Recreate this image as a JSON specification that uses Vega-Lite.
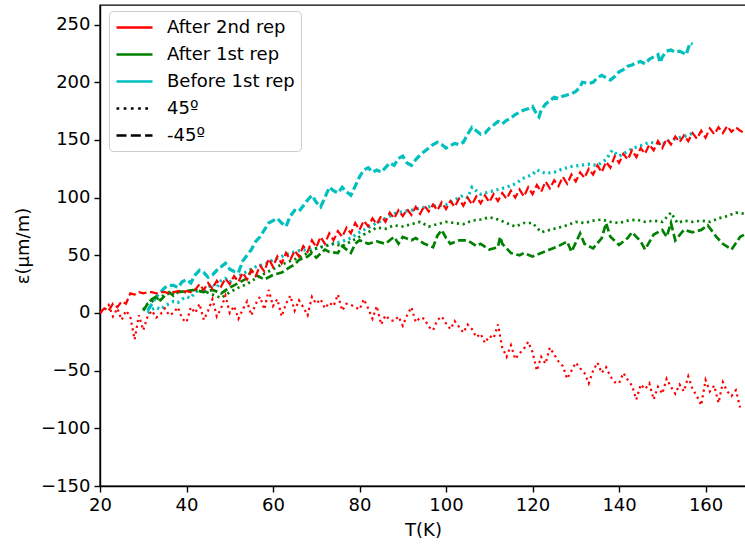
{
"$schema":"https://vega.github.io/schema/vega-lite/v6.json",
"width":646,"height":481,
"autosize":{"type":"none"},
"padding":{"left":100,"top":5,"right":0,"bottom":64},
"background":"white",
"config":{"font":"DejaVu Sans","view":{"stroke":"black","strokeWidth":1.4},
"axis":{"domainColor":"black","domainWidth":1.4,"tickColor":"black","tickWidth":1.4,"tickSize":6,"labelFontSize":18,"labelColor":"black","labelPadding":4,"titleFontSize":18,"titleFontWeight":"normal","titleColor":"black","grid":false,"labelFont":"DejaVu Sans","titleFont":"DejaVu Sans","labelFlush":false}},
"data":{"values":[
{"rep":"Before 1st rep","angle":"-45º","T":31,"e":2},{"rep":"Before 1st rep","angle":"-45º","T":32,"e":8},{"rep":"Before 1st rep","angle":"-45º","T":33,"e":14},{"rep":"Before 1st rep","angle":"-45º","T":34,"e":18},{"rep":"Before 1st rep","angle":"-45º","T":35,"e":22},{"rep":"Before 1st rep","angle":"-45º","T":36,"e":24},{"rep":"Before 1st rep","angle":"-45º","T":37,"e":24},{"rep":"Before 1st rep","angle":"-45º","T":38,"e":22},{"rep":"Before 1st rep","angle":"-45º","T":39,"e":27},{"rep":"Before 1st rep","angle":"-45º","T":40,"e":29},{"rep":"Before 1st rep","angle":"-45º","T":41,"e":26},{"rep":"Before 1st rep","angle":"-45º","T":42,"e":33},{"rep":"Before 1st rep","angle":"-45º","T":43,"e":37},{"rep":"Before 1st rep","angle":"-45º","T":44,"e":35},{"rep":"Before 1st rep","angle":"-45º","T":45,"e":31},{"rep":"Before 1st rep","angle":"-45º","T":46,"e":33},{"rep":"Before 1st rep","angle":"-45º","T":47,"e":37},{"rep":"Before 1st rep","angle":"-45º","T":48,"e":40},{"rep":"Before 1st rep","angle":"-45º","T":49,"e":43},{"rep":"Before 1st rep","angle":"-45º","T":50,"e":38},{"rep":"Before 1st rep","angle":"-45º","T":51,"e":36},{"rep":"Before 1st rep","angle":"-45º","T":52,"e":35},{"rep":"Before 1st rep","angle":"-45º","T":53,"e":45},{"rep":"Before 1st rep","angle":"-45º","T":54,"e":50},{"rep":"Before 1st rep","angle":"-45º","T":55,"e":55},{"rep":"Before 1st rep","angle":"-45º","T":56,"e":62},{"rep":"Before 1st rep","angle":"-45º","T":57,"e":66},{"rep":"Before 1st rep","angle":"-45º","T":58,"e":72},{"rep":"Before 1st rep","angle":"-45º","T":59,"e":78},{"rep":"Before 1st rep","angle":"-45º","T":60,"e":80},{"rep":"Before 1st rep","angle":"-45º","T":61,"e":82},{"rep":"Before 1st rep","angle":"-45º","T":62,"e":78},{"rep":"Before 1st rep","angle":"-45º","T":63,"e":75},{"rep":"Before 1st rep","angle":"-45º","T":64,"e":84},{"rep":"Before 1st rep","angle":"-45º","T":65,"e":89},{"rep":"Before 1st rep","angle":"-45º","T":66,"e":88},{"rep":"Before 1st rep","angle":"-45º","T":67,"e":93},{"rep":"Before 1st rep","angle":"-45º","T":68,"e":98},{"rep":"Before 1st rep","angle":"-45º","T":69,"e":102},{"rep":"Before 1st rep","angle":"-45º","T":70,"e":96},{"rep":"Before 1st rep","angle":"-45º","T":71,"e":92},{"rep":"Before 1st rep","angle":"-45º","T":72,"e":100},{"rep":"Before 1st rep","angle":"-45º","T":73,"e":109},{"rep":"Before 1st rep","angle":"-45º","T":74,"e":106},{"rep":"Before 1st rep","angle":"-45º","T":75,"e":104},{"rep":"Before 1st rep","angle":"-45º","T":76,"e":109},{"rep":"Before 1st rep","angle":"-45º","T":77,"e":105},{"rep":"Before 1st rep","angle":"-45º","T":78,"e":102},{"rep":"Before 1st rep","angle":"-45º","T":79,"e":110},{"rep":"Before 1st rep","angle":"-45º","T":80,"e":118},{"rep":"Before 1st rep","angle":"-45º","T":81,"e":124},{"rep":"Before 1st rep","angle":"-45º","T":82,"e":126},{"rep":"Before 1st rep","angle":"-45º","T":83,"e":122},{"rep":"Before 1st rep","angle":"-45º","T":84,"e":124},{"rep":"Before 1st rep","angle":"-45º","T":85,"e":122},{"rep":"Before 1st rep","angle":"-45º","T":86,"e":126},{"rep":"Before 1st rep","angle":"-45º","T":87,"e":130},{"rep":"Before 1st rep","angle":"-45º","T":88,"e":128},{"rep":"Before 1st rep","angle":"-45º","T":89,"e":134},{"rep":"Before 1st rep","angle":"-45º","T":90,"e":136},{"rep":"Before 1st rep","angle":"-45º","T":91,"e":130},{"rep":"Before 1st rep","angle":"-45º","T":92,"e":128},{"rep":"Before 1st rep","angle":"-45º","T":93,"e":133},{"rep":"Before 1st rep","angle":"-45º","T":94,"e":137},{"rep":"Before 1st rep","angle":"-45º","T":95,"e":140},{"rep":"Before 1st rep","angle":"-45º","T":96,"e":143},{"rep":"Before 1st rep","angle":"-45º","T":97,"e":146},{"rep":"Before 1st rep","angle":"-45º","T":98,"e":148},{"rep":"Before 1st rep","angle":"-45º","T":99,"e":146},{"rep":"Before 1st rep","angle":"-45º","T":100,"e":143},{"rep":"Before 1st rep","angle":"-45º","T":101,"e":145},{"rep":"Before 1st rep","angle":"-45º","T":102,"e":147},{"rep":"Before 1st rep","angle":"-45º","T":103,"e":146},{"rep":"Before 1st rep","angle":"-45º","T":104,"e":148},{"rep":"Before 1st rep","angle":"-45º","T":105,"e":155},{"rep":"Before 1st rep","angle":"-45º","T":106,"e":161},{"rep":"Before 1st rep","angle":"-45º","T":107,"e":158},{"rep":"Before 1st rep","angle":"-45º","T":108,"e":155},{"rep":"Before 1st rep","angle":"-45º","T":109,"e":156},{"rep":"Before 1st rep","angle":"-45º","T":110,"e":160},{"rep":"Before 1st rep","angle":"-45º","T":111,"e":163},{"rep":"Before 1st rep","angle":"-45º","T":112,"e":166},{"rep":"Before 1st rep","angle":"-45º","T":113,"e":164},{"rep":"Before 1st rep","angle":"-45º","T":114,"e":167},{"rep":"Before 1st rep","angle":"-45º","T":115,"e":169},{"rep":"Before 1st rep","angle":"-45º","T":116,"e":172},{"rep":"Before 1st rep","angle":"-45º","T":117,"e":174},{"rep":"Before 1st rep","angle":"-45º","T":118,"e":176},{"rep":"Before 1st rep","angle":"-45º","T":119,"e":177},{"rep":"Before 1st rep","angle":"-45º","T":120,"e":179},{"rep":"Before 1st rep","angle":"-45º","T":121,"e":172},{"rep":"Before 1st rep","angle":"-45º","T":121.5,"e":170},{"rep":"Before 1st rep","angle":"-45º","T":122,"e":176},{"rep":"Before 1st rep","angle":"-45º","T":123,"e":181},{"rep":"Before 1st rep","angle":"-45º","T":124,"e":184},{"rep":"Before 1st rep","angle":"-45º","T":125,"e":187},{"rep":"Before 1st rep","angle":"-45º","T":126,"e":186},{"rep":"Before 1st rep","angle":"-45º","T":127,"e":188},{"rep":"Before 1st rep","angle":"-45º","T":128,"e":189},{"rep":"Before 1st rep","angle":"-45º","T":129,"e":190},{"rep":"Before 1st rep","angle":"-45º","T":130,"e":192},{"rep":"Before 1st rep","angle":"-45º","T":131,"e":196},{"rep":"Before 1st rep","angle":"-45º","T":131.5,"e":200},{"rep":"Before 1st rep","angle":"-45º","T":133,"e":199},{"rep":"Before 1st rep","angle":"-45º","T":134,"e":200},{"rep":"Before 1st rep","angle":"-45º","T":135,"e":204},{"rep":"Before 1st rep","angle":"-45º","T":136,"e":206},{"rep":"Before 1st rep","angle":"-45º","T":137,"e":204},{"rep":"Before 1st rep","angle":"-45º","T":138,"e":202},{"rep":"Before 1st rep","angle":"-45º","T":139,"e":205},{"rep":"Before 1st rep","angle":"-45º","T":140,"e":209},{"rep":"Before 1st rep","angle":"-45º","T":141,"e":211},{"rep":"Before 1st rep","angle":"-45º","T":142,"e":214},{"rep":"Before 1st rep","angle":"-45º","T":143,"e":215},{"rep":"Before 1st rep","angle":"-45º","T":144,"e":217},{"rep":"Before 1st rep","angle":"-45º","T":145,"e":218},{"rep":"Before 1st rep","angle":"-45º","T":146,"e":216},{"rep":"Before 1st rep","angle":"-45º","T":147,"e":220},{"rep":"Before 1st rep","angle":"-45º","T":148,"e":222},{"rep":"Before 1st rep","angle":"-45º","T":149,"e":224},{"rep":"Before 1st rep","angle":"-45º","T":149.5,"e":217},{"rep":"Before 1st rep","angle":"-45º","T":150,"e":222},{"rep":"Before 1st rep","angle":"-45º","T":151,"e":227},{"rep":"Before 1st rep","angle":"-45º","T":152,"e":228},{"rep":"Before 1st rep","angle":"-45º","T":153,"e":226},{"rep":"Before 1st rep","angle":"-45º","T":154,"e":227},{"rep":"Before 1st rep","angle":"-45º","T":155,"e":225},{"rep":"Before 1st rep","angle":"-45º","T":155.5,"e":224},{"rep":"Before 1st rep","angle":"-45º","T":156.4,"e":234},{"rep":"Before 1st rep","angle":"-45º","T":157,"e":233},
{"rep":"Before 1st rep","angle":"45º","T":31,"e":0},{"rep":"Before 1st rep","angle":"45º","T":32,"e":3},{"rep":"Before 1st rep","angle":"45º","T":33,"e":5},{"rep":"Before 1st rep","angle":"45º","T":34,"e":3},{"rep":"Before 1st rep","angle":"45º","T":35,"e":6},{"rep":"Before 1st rep","angle":"45º","T":36,"e":8},{"rep":"Before 1st rep","angle":"45º","T":37,"e":10},{"rep":"Before 1st rep","angle":"45º","T":38,"e":9},{"rep":"Before 1st rep","angle":"45º","T":39,"e":12},{"rep":"Before 1st rep","angle":"45º","T":40,"e":14},{"rep":"Before 1st rep","angle":"45º","T":41,"e":13},{"rep":"Before 1st rep","angle":"45º","T":42,"e":18},{"rep":"Before 1st rep","angle":"45º","T":43,"e":20},{"rep":"Before 1st rep","angle":"45º","T":44,"e":17},{"rep":"Before 1st rep","angle":"45º","T":45,"e":22},{"rep":"Before 1st rep","angle":"45º","T":46,"e":25},{"rep":"Before 1st rep","angle":"45º","T":47,"e":22},{"rep":"Before 1st rep","angle":"45º","T":48,"e":28},{"rep":"Before 1st rep","angle":"45º","T":49,"e":30},{"rep":"Before 1st rep","angle":"45º","T":50,"e":27},{"rep":"Before 1st rep","angle":"45º","T":52,"e":32},{"rep":"Before 1st rep","angle":"45º","T":54,"e":36},{"rep":"Before 1st rep","angle":"45º","T":56,"e":40},{"rep":"Before 1st rep","angle":"45º","T":58,"e":42},{"rep":"Before 1st rep","angle":"45º","T":60,"e":46},{"rep":"Before 1st rep","angle":"45º","T":62,"e":49},{"rep":"Before 1st rep","angle":"45º","T":64,"e":52},{"rep":"Before 1st rep","angle":"45º","T":66,"e":54},{"rep":"Before 1st rep","angle":"45º","T":68,"e":55},{"rep":"Before 1st rep","angle":"45º","T":70,"e":56},{"rep":"Before 1st rep","angle":"45º","T":72,"e":58},{"rep":"Before 1st rep","angle":"45º","T":74,"e":60},{"rep":"Before 1st rep","angle":"45º","T":76,"e":62},{"rep":"Before 1st rep","angle":"45º","T":78,"e":65},{"rep":"Before 1st rep","angle":"45º","T":80,"e":70},{"rep":"Before 1st rep","angle":"45º","T":82,"e":74},{"rep":"Before 1st rep","angle":"45º","T":84,"e":78},{"rep":"Before 1st rep","angle":"45º","T":86,"e":82},{"rep":"Before 1st rep","angle":"45º","T":88,"e":86},{"rep":"Before 1st rep","angle":"45º","T":90,"e":88},{"rep":"Before 1st rep","angle":"45º","T":92,"e":89},{"rep":"Before 1st rep","angle":"45º","T":94,"e":91},{"rep":"Before 1st rep","angle":"45º","T":96,"e":92},{"rep":"Before 1st rep","angle":"45º","T":98,"e":93},{"rep":"Before 1st rep","angle":"45º","T":100,"e":94},{"rep":"Before 1st rep","angle":"45º","T":102,"e":98},{"rep":"Before 1st rep","angle":"45º","T":104,"e":102},{"rep":"Before 1st rep","angle":"45º","T":105,"e":100},{"rep":"Before 1st rep","angle":"45º","T":106,"e":109},{"rep":"Before 1st rep","angle":"45º","T":107,"e":106},{"rep":"Before 1st rep","angle":"45º","T":108,"e":103},{"rep":"Before 1st rep","angle":"45º","T":110,"e":105},{"rep":"Before 1st rep","angle":"45º","T":112,"e":107},{"rep":"Before 1st rep","angle":"45º","T":114,"e":109},{"rep":"Before 1st rep","angle":"45º","T":116,"e":112},{"rep":"Before 1st rep","angle":"45º","T":118,"e":117},{"rep":"Before 1st rep","angle":"45º","T":120,"e":120},{"rep":"Before 1st rep","angle":"45º","T":121,"e":124},{"rep":"Before 1st rep","angle":"45º","T":123,"e":121},{"rep":"Before 1st rep","angle":"45º","T":125,"e":122},{"rep":"Before 1st rep","angle":"45º","T":127,"e":125},{"rep":"Before 1st rep","angle":"45º","T":129,"e":127},{"rep":"Before 1st rep","angle":"45º","T":131,"e":128},{"rep":"Before 1st rep","angle":"45º","T":133,"e":129},{"rep":"Before 1st rep","angle":"45º","T":135,"e":128},{"rep":"Before 1st rep","angle":"45º","T":137,"e":133},{"rep":"Before 1st rep","angle":"45º","T":138.4,"e":141},{"rep":"Before 1st rep","angle":"45º","T":140,"e":136},{"rep":"Before 1st rep","angle":"45º","T":142,"e":140},{"rep":"Before 1st rep","angle":"45º","T":143.3,"e":143},{"rep":"Before 1st rep","angle":"45º","T":145,"e":145},{"rep":"Before 1st rep","angle":"45º","T":147,"e":148},{"rep":"Before 1st rep","angle":"45º","T":149,"e":147},{"rep":"Before 1st rep","angle":"45º","T":150.5,"e":147},{"rep":"Before 1st rep","angle":"45º","T":152,"e":150},{"rep":"Before 1st rep","angle":"45º","T":154,"e":152},{"rep":"Before 1st rep","angle":"45º","T":156,"e":154},{"rep":"Before 1st rep","angle":"45º","T":157,"e":156},
{"rep":"After 1st rep","angle":"-45º","T":30,"e":2},{"rep":"After 1st rep","angle":"-45º","T":31,"e":8},{"rep":"After 1st rep","angle":"-45º","T":32,"e":12},{"rep":"After 1st rep","angle":"-45º","T":33,"e":14},{"rep":"After 1st rep","angle":"-45º","T":34,"e":11},{"rep":"After 1st rep","angle":"-45º","T":35,"e":15},{"rep":"After 1st rep","angle":"-45º","T":36,"e":18},{"rep":"After 1st rep","angle":"-45º","T":37,"e":15},{"rep":"After 1st rep","angle":"-45º","T":38,"e":18},{"rep":"After 1st rep","angle":"-45º","T":40,"e":19},{"rep":"After 1st rep","angle":"-45º","T":42,"e":20},{"rep":"After 1st rep","angle":"-45º","T":44,"e":18},{"rep":"After 1st rep","angle":"-45º","T":46,"e":20},{"rep":"After 1st rep","angle":"-45º","T":48,"e":17},{"rep":"After 1st rep","angle":"-45º","T":50,"e":22},{"rep":"After 1st rep","angle":"-45º","T":52,"e":26},{"rep":"After 1st rep","angle":"-45º","T":54,"e":30},{"rep":"After 1st rep","angle":"-45º","T":55,"e":37},{"rep":"After 1st rep","angle":"-45º","T":56,"e":33},{"rep":"After 1st rep","angle":"-45º","T":58,"e":29},{"rep":"After 1st rep","angle":"-45º","T":60,"e":33},{"rep":"After 1st rep","angle":"-45º","T":62,"e":35},{"rep":"After 1st rep","angle":"-45º","T":64,"e":40},{"rep":"After 1st rep","angle":"-45º","T":65,"e":42},{"rep":"After 1st rep","angle":"-45º","T":66,"e":46},{"rep":"After 1st rep","angle":"-45º","T":68,"e":49},{"rep":"After 1st rep","angle":"-45º","T":69,"e":52},{"rep":"After 1st rep","angle":"-45º","T":70,"e":48},{"rep":"After 1st rep","angle":"-45º","T":72,"e":55},{"rep":"After 1st rep","angle":"-45º","T":73,"e":53},{"rep":"After 1st rep","angle":"-45º","T":75,"e":52},{"rep":"After 1st rep","angle":"-45º","T":76,"e":58},{"rep":"After 1st rep","angle":"-45º","T":78,"e":52},{"rep":"After 1st rep","angle":"-45º","T":79,"e":60},{"rep":"After 1st rep","angle":"-45º","T":80,"e":63},{"rep":"After 1st rep","angle":"-45º","T":82,"e":60},{"rep":"After 1st rep","angle":"-45º","T":84,"e":62},{"rep":"After 1st rep","angle":"-45º","T":86,"e":60},{"rep":"After 1st rep","angle":"-45º","T":88,"e":66},{"rep":"After 1st rep","angle":"-45º","T":89,"e":60},{"rep":"After 1st rep","angle":"-45º","T":90,"e":66},{"rep":"After 1st rep","angle":"-45º","T":92,"e":63},{"rep":"After 1st rep","angle":"-45º","T":93,"e":65},{"rep":"After 1st rep","angle":"-45º","T":95,"e":60},{"rep":"After 1st rep","angle":"-45º","T":97,"e":57},{"rep":"After 1st rep","angle":"-45º","T":98,"e":67},{"rep":"After 1st rep","angle":"-45º","T":99,"e":72},{"rep":"After 1st rep","angle":"-45º","T":100,"e":65},{"rep":"After 1st rep","angle":"-45º","T":101,"e":60},{"rep":"After 1st rep","angle":"-45º","T":103,"e":63},{"rep":"After 1st rep","angle":"-45º","T":105,"e":63},{"rep":"After 1st rep","angle":"-45º","T":107,"e":58},{"rep":"After 1st rep","angle":"-45º","T":108,"e":60},{"rep":"After 1st rep","angle":"-45º","T":110,"e":55},{"rep":"After 1st rep","angle":"-45º","T":112,"e":57},{"rep":"After 1st rep","angle":"-45º","T":112.5,"e":66},{"rep":"After 1st rep","angle":"-45º","T":113,"e":60},{"rep":"After 1st rep","angle":"-45º","T":115,"e":52},{"rep":"After 1st rep","angle":"-45º","T":117,"e":50},{"rep":"After 1st rep","angle":"-45º","T":118,"e":52},{"rep":"After 1st rep","angle":"-45º","T":120,"e":49},{"rep":"After 1st rep","angle":"-45º","T":122,"e":52},{"rep":"After 1st rep","angle":"-45º","T":124,"e":55},{"rep":"After 1st rep","angle":"-45º","T":126,"e":58},{"rep":"After 1st rep","angle":"-45º","T":128,"e":62},{"rep":"After 1st rep","angle":"-45º","T":129,"e":53},{"rep":"After 1st rep","angle":"-45º","T":131,"e":69},{"rep":"After 1st rep","angle":"-45º","T":132,"e":60},{"rep":"After 1st rep","angle":"-45º","T":134,"e":56},{"rep":"After 1st rep","angle":"-45º","T":136,"e":65},{"rep":"After 1st rep","angle":"-45º","T":137,"e":78},{"rep":"After 1st rep","angle":"-45º","T":138,"e":66},{"rep":"After 1st rep","angle":"-45º","T":140,"e":59},{"rep":"After 1st rep","angle":"-45º","T":142,"e":65},{"rep":"After 1st rep","angle":"-45º","T":143,"e":70},{"rep":"After 1st rep","angle":"-45º","T":145,"e":62},{"rep":"After 1st rep","angle":"-45º","T":146,"e":55},{"rep":"After 1st rep","angle":"-45º","T":148,"e":68},{"rep":"After 1st rep","angle":"-45º","T":150,"e":72},{"rep":"After 1st rep","angle":"-45º","T":151,"e":66},{"rep":"After 1st rep","angle":"-45º","T":152,"e":78},{"rep":"After 1st rep","angle":"-45º","T":153,"e":63},{"rep":"After 1st rep","angle":"-45º","T":155,"e":72},{"rep":"After 1st rep","angle":"-45º","T":157,"e":70},{"rep":"After 1st rep","angle":"-45º","T":159,"e":72},{"rep":"After 1st rep","angle":"-45º","T":160.5,"e":76},{"rep":"After 1st rep","angle":"-45º","T":162.5,"e":66},{"rep":"After 1st rep","angle":"-45º","T":164,"e":60},{"rep":"After 1st rep","angle":"-45º","T":166,"e":55},{"rep":"After 1st rep","angle":"-45º","T":168,"e":66},{"rep":"After 1st rep","angle":"-45º","T":169,"e":68},
{"rep":"After 1st rep","angle":"45º","T":30,"e":3},{"rep":"After 1st rep","angle":"45º","T":31,"e":8},{"rep":"After 1st rep","angle":"45º","T":32,"e":10},{"rep":"After 1st rep","angle":"45º","T":34,"e":14},{"rep":"After 1st rep","angle":"45º","T":36,"e":17},{"rep":"After 1st rep","angle":"45º","T":38,"e":19},{"rep":"After 1st rep","angle":"45º","T":40,"e":18},{"rep":"After 1st rep","angle":"45º","T":42,"e":20},{"rep":"After 1st rep","angle":"45º","T":44,"e":19},{"rep":"After 1st rep","angle":"45º","T":46,"e":16},{"rep":"After 1st rep","angle":"45º","T":48,"e":13},{"rep":"After 1st rep","angle":"45º","T":50,"e":18},{"rep":"After 1st rep","angle":"45º","T":52,"e":22},{"rep":"After 1st rep","angle":"45º","T":54,"e":25},{"rep":"After 1st rep","angle":"45º","T":56,"e":30},{"rep":"After 1st rep","angle":"45º","T":58,"e":34},{"rep":"After 1st rep","angle":"45º","T":60,"e":38},{"rep":"After 1st rep","angle":"45º","T":62,"e":42},{"rep":"After 1st rep","angle":"45º","T":64,"e":45},{"rep":"After 1st rep","angle":"45º","T":66,"e":48},{"rep":"After 1st rep","angle":"45º","T":68,"e":52},{"rep":"After 1st rep","angle":"45º","T":70,"e":56},{"rep":"After 1st rep","angle":"45º","T":72,"e":58},{"rep":"After 1st rep","angle":"45º","T":74,"e":60},{"rep":"After 1st rep","angle":"45º","T":76,"e":58},{"rep":"After 1st rep","angle":"45º","T":78,"e":62},{"rep":"After 1st rep","angle":"45º","T":80,"e":66},{"rep":"After 1st rep","angle":"45º","T":82,"e":70},{"rep":"After 1st rep","angle":"45º","T":84,"e":74},{"rep":"After 1st rep","angle":"45º","T":86,"e":73},{"rep":"After 1st rep","angle":"45º","T":88,"e":76},{"rep":"After 1st rep","angle":"45º","T":90,"e":75},{"rep":"After 1st rep","angle":"45º","T":92,"e":77},{"rep":"After 1st rep","angle":"45º","T":94,"e":79},{"rep":"After 1st rep","angle":"45º","T":96,"e":75},{"rep":"After 1st rep","angle":"45º","T":98,"e":77},{"rep":"After 1st rep","angle":"45º","T":100,"e":79},{"rep":"After 1st rep","angle":"45º","T":102,"e":78},{"rep":"After 1st rep","angle":"45º","T":104,"e":77},{"rep":"After 1st rep","angle":"45º","T":106,"e":80},{"rep":"After 1st rep","angle":"45º","T":108,"e":81},{"rep":"After 1st rep","angle":"45º","T":110,"e":83},{"rep":"After 1st rep","angle":"45º","T":112,"e":81},{"rep":"After 1st rep","angle":"45º","T":114,"e":78},{"rep":"After 1st rep","angle":"45º","T":116,"e":75},{"rep":"After 1st rep","angle":"45º","T":118,"e":78},{"rep":"After 1st rep","angle":"45º","T":120,"e":78},{"rep":"After 1st rep","angle":"45º","T":122,"e":70},{"rep":"After 1st rep","angle":"45º","T":124,"e":72},{"rep":"After 1st rep","angle":"45º","T":126,"e":74},{"rep":"After 1st rep","angle":"45º","T":128,"e":76},{"rep":"After 1st rep","angle":"45º","T":130,"e":79},{"rep":"After 1st rep","angle":"45º","T":132,"e":78},{"rep":"After 1st rep","angle":"45º","T":134,"e":80},{"rep":"After 1st rep","angle":"45º","T":136,"e":81},{"rep":"After 1st rep","angle":"45º","T":138,"e":79},{"rep":"After 1st rep","angle":"45º","T":140,"e":78},{"rep":"After 1st rep","angle":"45º","T":142,"e":80},{"rep":"After 1st rep","angle":"45º","T":144,"e":81},{"rep":"After 1st rep","angle":"45º","T":146,"e":79},{"rep":"After 1st rep","angle":"45º","T":148,"e":80},{"rep":"After 1st rep","angle":"45º","T":150,"e":79},{"rep":"After 1st rep","angle":"45º","T":152,"e":87},{"rep":"After 1st rep","angle":"45º","T":153.5,"e":78},{"rep":"After 1st rep","angle":"45º","T":155,"e":80},{"rep":"After 1st rep","angle":"45º","T":157,"e":79},{"rep":"After 1st rep","angle":"45º","T":159,"e":80},{"rep":"After 1st rep","angle":"45º","T":161,"e":79},{"rep":"After 1st rep","angle":"45º","T":163,"e":82},{"rep":"After 1st rep","angle":"45º","T":165,"e":84},{"rep":"After 1st rep","angle":"45º","T":167,"e":87},{"rep":"After 1st rep","angle":"45º","T":169,"e":86},
{"rep":"After 2nd rep","angle":"-45º","T":20,"e":0},{"rep":"After 2nd rep","angle":"-45º","T":21,"e":4},{"rep":"After 2nd rep","angle":"-45º","T":22,"e":2},{"rep":"After 2nd rep","angle":"-45º","T":23,"e":8},{"rep":"After 2nd rep","angle":"-45º","T":24,"e":5},{"rep":"After 2nd rep","angle":"-45º","T":25,"e":10},{"rep":"After 2nd rep","angle":"-45º","T":26,"e":8},{"rep":"After 2nd rep","angle":"-45º","T":27,"e":17},{"rep":"After 2nd rep","angle":"-45º","T":28,"e":16},{"rep":"After 2nd rep","angle":"-45º","T":29,"e":18},{"rep":"After 2nd rep","angle":"-45º","T":30,"e":17},{"rep":"After 2nd rep","angle":"-45º","T":31,"e":18},{"rep":"After 2nd rep","angle":"-45º","T":32,"e":18},{"rep":"After 2nd rep","angle":"-45º","T":33,"e":17},{"rep":"After 2nd rep","angle":"-45º","T":34,"e":18},{"rep":"After 2nd rep","angle":"-45º","T":35,"e":18},{"rep":"After 2nd rep","angle":"-45º","T":36,"e":17},{"rep":"After 2nd rep","angle":"-45º","T":37,"e":18},{"rep":"After 2nd rep","angle":"-45º","T":38,"e":19},{"rep":"After 2nd rep","angle":"-45º","T":39,"e":18},{"rep":"After 2nd rep","angle":"-45º","T":40,"e":19},{"rep":"After 2nd rep","angle":"-45º","T":41,"e":18},{"rep":"After 2nd rep","angle":"-45º","T":42,"e":20},{"rep":"After 2nd rep","angle":"-45º","T":43,"e":25},{"rep":"After 2nd rep","angle":"-45º","T":44,"e":20},{"rep":"After 2nd rep","angle":"-45º","T":45,"e":26},{"rep":"After 2nd rep","angle":"-45º","T":46,"e":21},{"rep":"After 2nd rep","angle":"-45º","T":47,"e":28},{"rep":"After 2nd rep","angle":"-45º","T":48,"e":23},{"rep":"After 2nd rep","angle":"-45º","T":49,"e":30},{"rep":"After 2nd rep","angle":"-45º","T":50,"e":25},{"rep":"After 2nd rep","angle":"-45º","T":51,"e":32},{"rep":"After 2nd rep","angle":"-45º","T":52,"e":27},{"rep":"After 2nd rep","angle":"-45º","T":53,"e":35},{"rep":"After 2nd rep","angle":"-45º","T":54,"e":29},{"rep":"After 2nd rep","angle":"-45º","T":55,"e":37},{"rep":"After 2nd rep","angle":"-45º","T":56,"e":32},{"rep":"After 2nd rep","angle":"-45º","T":57,"e":41},{"rep":"After 2nd rep","angle":"-45º","T":58,"e":36},{"rep":"After 2nd rep","angle":"-45º","T":59,"e":47},{"rep":"After 2nd rep","angle":"-45º","T":60,"e":40},{"rep":"After 2nd rep","angle":"-45º","T":61,"e":49},{"rep":"After 2nd rep","angle":"-45º","T":62,"e":43},{"rep":"After 2nd rep","angle":"-45º","T":63,"e":52},{"rep":"After 2nd rep","angle":"-45º","T":64,"e":46},{"rep":"After 2nd rep","angle":"-45º","T":65,"e":54},{"rep":"After 2nd rep","angle":"-45º","T":66,"e":49},{"rep":"After 2nd rep","angle":"-45º","T":67,"e":58},{"rep":"After 2nd rep","angle":"-45º","T":68,"e":53},{"rep":"After 2nd rep","angle":"-45º","T":69,"e":63},{"rep":"After 2nd rep","angle":"-45º","T":70,"e":57},{"rep":"After 2nd rep","angle":"-45º","T":71,"e":66},{"rep":"After 2nd rep","angle":"-45º","T":72,"e":60},{"rep":"After 2nd rep","angle":"-45º","T":73,"e":69},{"rep":"After 2nd rep","angle":"-45º","T":74,"e":63},{"rep":"After 2nd rep","angle":"-45º","T":75,"e":71},{"rep":"After 2nd rep","angle":"-45º","T":76,"e":66},{"rep":"After 2nd rep","angle":"-45º","T":77,"e":74},{"rep":"After 2nd rep","angle":"-45º","T":78,"e":69},{"rep":"After 2nd rep","angle":"-45º","T":79,"e":78},{"rep":"After 2nd rep","angle":"-45º","T":80,"e":72},{"rep":"After 2nd rep","angle":"-45º","T":81,"e":80},{"rep":"After 2nd rep","angle":"-45º","T":82,"e":75},{"rep":"After 2nd rep","angle":"-45º","T":83,"e":82},{"rep":"After 2nd rep","angle":"-45º","T":84,"e":77},{"rep":"After 2nd rep","angle":"-45º","T":85,"e":84},{"rep":"After 2nd rep","angle":"-45º","T":86,"e":79},{"rep":"After 2nd rep","angle":"-45º","T":87,"e":87},{"rep":"After 2nd rep","angle":"-45º","T":88,"e":82},{"rep":"After 2nd rep","angle":"-45º","T":89,"e":89},{"rep":"After 2nd rep","angle":"-45º","T":90,"e":84},{"rep":"After 2nd rep","angle":"-45º","T":91,"e":90},{"rep":"After 2nd rep","angle":"-45º","T":92,"e":85},{"rep":"After 2nd rep","angle":"-45º","T":93,"e":92},{"rep":"After 2nd rep","angle":"-45º","T":94,"e":86},{"rep":"After 2nd rep","angle":"-45º","T":95,"e":93},{"rep":"After 2nd rep","angle":"-45º","T":96,"e":88},{"rep":"After 2nd rep","angle":"-45º","T":97,"e":94},{"rep":"After 2nd rep","angle":"-45º","T":98,"e":89},{"rep":"After 2nd rep","angle":"-45º","T":99,"e":96},{"rep":"After 2nd rep","angle":"-45º","T":100,"e":90},{"rep":"After 2nd rep","angle":"-45º","T":101,"e":97},{"rep":"After 2nd rep","angle":"-45º","T":102,"e":92},{"rep":"After 2nd rep","angle":"-45º","T":103,"e":99},{"rep":"After 2nd rep","angle":"-45º","T":104,"e":93},{"rep":"After 2nd rep","angle":"-45º","T":105,"e":100},{"rep":"After 2nd rep","angle":"-45º","T":106,"e":94},{"rep":"After 2nd rep","angle":"-45º","T":107,"e":101},{"rep":"After 2nd rep","angle":"-45º","T":108,"e":95},{"rep":"After 2nd rep","angle":"-45º","T":109,"e":102},{"rep":"After 2nd rep","angle":"-45º","T":110,"e":96},{"rep":"After 2nd rep","angle":"-45º","T":111,"e":103},{"rep":"After 2nd rep","angle":"-45º","T":112,"e":97},{"rep":"After 2nd rep","angle":"-45º","T":113,"e":104},{"rep":"After 2nd rep","angle":"-45º","T":114,"e":99},{"rep":"After 2nd rep","angle":"-45º","T":115,"e":106},{"rep":"After 2nd rep","angle":"-45º","T":116,"e":100},{"rep":"After 2nd rep","angle":"-45º","T":117,"e":107},{"rep":"After 2nd rep","angle":"-45º","T":118,"e":101},{"rep":"After 2nd rep","angle":"-45º","T":119,"e":109},{"rep":"After 2nd rep","angle":"-45º","T":120,"e":103},{"rep":"After 2nd rep","angle":"-45º","T":121,"e":111},{"rep":"After 2nd rep","angle":"-45º","T":122,"e":105},{"rep":"After 2nd rep","angle":"-45º","T":123,"e":114},{"rep":"After 2nd rep","angle":"-45º","T":124,"e":108},{"rep":"After 2nd rep","angle":"-45º","T":125,"e":115},{"rep":"After 2nd rep","angle":"-45º","T":126,"e":110},{"rep":"After 2nd rep","angle":"-45º","T":127,"e":118},{"rep":"After 2nd rep","angle":"-45º","T":128,"e":112},{"rep":"After 2nd rep","angle":"-45º","T":129,"e":120},{"rep":"After 2nd rep","angle":"-45º","T":130,"e":114},{"rep":"After 2nd rep","angle":"-45º","T":131,"e":122},{"rep":"After 2nd rep","angle":"-45º","T":132,"e":117},{"rep":"After 2nd rep","angle":"-45º","T":133,"e":125},{"rep":"After 2nd rep","angle":"-45º","T":134,"e":120},{"rep":"After 2nd rep","angle":"-45º","T":135,"e":128},{"rep":"After 2nd rep","angle":"-45º","T":136,"e":122},{"rep":"After 2nd rep","angle":"-45º","T":137,"e":131},{"rep":"After 2nd rep","angle":"-45º","T":138,"e":126},{"rep":"After 2nd rep","angle":"-45º","T":139,"e":136},{"rep":"After 2nd rep","angle":"-45º","T":140,"e":130},{"rep":"After 2nd rep","angle":"-45º","T":141,"e":138},{"rep":"After 2nd rep","angle":"-45º","T":142,"e":133},{"rep":"After 2nd rep","angle":"-45º","T":143,"e":141},{"rep":"After 2nd rep","angle":"-45º","T":144,"e":135},{"rep":"After 2nd rep","angle":"-45º","T":145,"e":143},{"rep":"After 2nd rep","angle":"-45º","T":146,"e":138},{"rep":"After 2nd rep","angle":"-45º","T":147,"e":146},{"rep":"After 2nd rep","angle":"-45º","T":148,"e":141},{"rep":"After 2nd rep","angle":"-45º","T":149,"e":149},{"rep":"After 2nd rep","angle":"-45º","T":150,"e":143},{"rep":"After 2nd rep","angle":"-45º","T":151,"e":151},{"rep":"After 2nd rep","angle":"-45º","T":152,"e":146},{"rep":"After 2nd rep","angle":"-45º","T":153,"e":153},{"rep":"After 2nd rep","angle":"-45º","T":154,"e":148},{"rep":"After 2nd rep","angle":"-45º","T":155,"e":154},{"rep":"After 2nd rep","angle":"-45º","T":156,"e":149},{"rep":"After 2nd rep","angle":"-45º","T":157,"e":156},{"rep":"After 2nd rep","angle":"-45º","T":158,"e":151},{"rep":"After 2nd rep","angle":"-45º","T":159,"e":158},{"rep":"After 2nd rep","angle":"-45º","T":160,"e":152},{"rep":"After 2nd rep","angle":"-45º","T":161,"e":160},{"rep":"After 2nd rep","angle":"-45º","T":162,"e":155},{"rep":"After 2nd rep","angle":"-45º","T":163,"e":161},{"rep":"After 2nd rep","angle":"-45º","T":164,"e":156},{"rep":"After 2nd rep","angle":"-45º","T":165,"e":162},{"rep":"After 2nd rep","angle":"-45º","T":166,"e":157},{"rep":"After 2nd rep","angle":"-45º","T":167,"e":161},{"rep":"After 2nd rep","angle":"-45º","T":168,"e":158},{"rep":"After 2nd rep","angle":"-45º","T":169,"e":156},
{"rep":"After 2nd rep","angle":"45º","T":20,"e":0},{"rep":"After 2nd rep","angle":"45º","T":21,"e":2},{"rep":"After 2nd rep","angle":"45º","T":22,"e":7},{"rep":"After 2nd rep","angle":"45º","T":23,"e":-3},{"rep":"After 2nd rep","angle":"45º","T":24,"e":4},{"rep":"After 2nd rep","angle":"45º","T":25,"e":-6},{"rep":"After 2nd rep","angle":"45º","T":26,"e":2},{"rep":"After 2nd rep","angle":"45º","T":27,"e":-3},{"rep":"After 2nd rep","angle":"45º","T":28,"e":-23},{"rep":"After 2nd rep","angle":"45º","T":29,"e":-2},{"rep":"After 2nd rep","angle":"45º","T":30,"e":-15},{"rep":"After 2nd rep","angle":"45º","T":31,"e":-3},{"rep":"After 2nd rep","angle":"45º","T":32,"e":2},{"rep":"After 2nd rep","angle":"45º","T":33,"e":-4},{"rep":"After 2nd rep","angle":"45º","T":34,"e":-1},{"rep":"After 2nd rep","angle":"45º","T":35,"e":4},{"rep":"After 2nd rep","angle":"45º","T":36,"e":-2},{"rep":"After 2nd rep","angle":"45º","T":37,"e":0},{"rep":"After 2nd rep","angle":"45º","T":38,"e":5},{"rep":"After 2nd rep","angle":"45º","T":39,"e":-5},{"rep":"After 2nd rep","angle":"45º","T":40,"e":-8},{"rep":"After 2nd rep","angle":"45º","T":41,"e":5},{"rep":"After 2nd rep","angle":"45º","T":42,"e":0},{"rep":"After 2nd rep","angle":"45º","T":43,"e":8},{"rep":"After 2nd rep","angle":"45º","T":44,"e":-6},{"rep":"After 2nd rep","angle":"45º","T":45,"e":2},{"rep":"After 2nd rep","angle":"45º","T":46,"e":12},{"rep":"After 2nd rep","angle":"45º","T":47,"e":-3},{"rep":"After 2nd rep","angle":"45º","T":48,"e":4},{"rep":"After 2nd rep","angle":"45º","T":49,"e":15},{"rep":"After 2nd rep","angle":"45º","T":50,"e":0},{"rep":"After 2nd rep","angle":"45º","T":51,"e":6},{"rep":"After 2nd rep","angle":"45º","T":52,"e":-5},{"rep":"After 2nd rep","angle":"45º","T":53,"e":3},{"rep":"After 2nd rep","angle":"45º","T":54,"e":10},{"rep":"After 2nd rep","angle":"45º","T":55,"e":-2},{"rep":"After 2nd rep","angle":"45º","T":56,"e":8},{"rep":"After 2nd rep","angle":"45º","T":57,"e":14},{"rep":"After 2nd rep","angle":"45º","T":58,"e":3},{"rep":"After 2nd rep","angle":"45º","T":59,"e":20},{"rep":"After 2nd rep","angle":"45º","T":60,"e":6},{"rep":"After 2nd rep","angle":"45º","T":61,"e":12},{"rep":"After 2nd rep","angle":"45º","T":62,"e":-3},{"rep":"After 2nd rep","angle":"45º","T":63,"e":8},{"rep":"After 2nd rep","angle":"45º","T":64,"e":15},{"rep":"After 2nd rep","angle":"45º","T":65,"e":2},{"rep":"After 2nd rep","angle":"45º","T":66,"e":11},{"rep":"After 2nd rep","angle":"45º","T":67,"e":5},{"rep":"After 2nd rep","angle":"45º","T":68,"e":-2},{"rep":"After 2nd rep","angle":"45º","T":69,"e":14},{"rep":"After 2nd rep","angle":"45º","T":70,"e":8},{"rep":"After 2nd rep","angle":"45º","T":71,"e":12},{"rep":"After 2nd rep","angle":"45º","T":72,"e":4},{"rep":"After 2nd rep","angle":"45º","T":73,"e":9},{"rep":"After 2nd rep","angle":"45º","T":74,"e":6},{"rep":"After 2nd rep","angle":"45º","T":75,"e":16},{"rep":"After 2nd rep","angle":"45º","T":76,"e":2},{"rep":"After 2nd rep","angle":"45º","T":77,"e":8},{"rep":"After 2nd rep","angle":"45º","T":78,"e":7},{"rep":"After 2nd rep","angle":"45º","T":79,"e":5},{"rep":"After 2nd rep","angle":"45º","T":80,"e":3},{"rep":"After 2nd rep","angle":"45º","T":81,"e":12},{"rep":"After 2nd rep","angle":"45º","T":82,"e":4},{"rep":"After 2nd rep","angle":"45º","T":83,"e":-5},{"rep":"After 2nd rep","angle":"45º","T":84,"e":6},{"rep":"After 2nd rep","angle":"45º","T":85,"e":-10},{"rep":"After 2nd rep","angle":"45º","T":86,"e":-2},{"rep":"After 2nd rep","angle":"45º","T":87,"e":-6},{"rep":"After 2nd rep","angle":"45º","T":88,"e":-7},{"rep":"After 2nd rep","angle":"45º","T":89,"e":-3},{"rep":"After 2nd rep","angle":"45º","T":90,"e":-11},{"rep":"After 2nd rep","angle":"45º","T":91,"e":-2},{"rep":"After 2nd rep","angle":"45º","T":92,"e":5},{"rep":"After 2nd rep","angle":"45º","T":93,"e":-8},{"rep":"After 2nd rep","angle":"45º","T":94,"e":-4},{"rep":"After 2nd rep","angle":"45º","T":95,"e":-5},{"rep":"After 2nd rep","angle":"45º","T":96,"e":-12},{"rep":"After 2nd rep","angle":"45º","T":97,"e":-15},{"rep":"After 2nd rep","angle":"45º","T":98,"e":-6},{"rep":"After 2nd rep","angle":"45º","T":99,"e":-3},{"rep":"After 2nd rep","angle":"45º","T":100,"e":-9},{"rep":"After 2nd rep","angle":"45º","T":101,"e":-14},{"rep":"After 2nd rep","angle":"45º","T":102,"e":-7},{"rep":"After 2nd rep","angle":"45º","T":103,"e":-12},{"rep":"After 2nd rep","angle":"45º","T":104,"e":-17},{"rep":"After 2nd rep","angle":"45º","T":105,"e":-10},{"rep":"After 2nd rep","angle":"45º","T":106,"e":-14},{"rep":"After 2nd rep","angle":"45º","T":107,"e":-21},{"rep":"After 2nd rep","angle":"45º","T":108,"e":-18},{"rep":"After 2nd rep","angle":"45º","T":109,"e":-26},{"rep":"After 2nd rep","angle":"45º","T":110,"e":-20},{"rep":"After 2nd rep","angle":"45º","T":111,"e":-22},{"rep":"After 2nd rep","angle":"45º","T":112,"e":-10},{"rep":"After 2nd rep","angle":"45º","T":113,"e":-30},{"rep":"After 2nd rep","angle":"45º","T":114,"e":-38},{"rep":"After 2nd rep","angle":"45º","T":115,"e":-28},{"rep":"After 2nd rep","angle":"45º","T":116,"e":-40},{"rep":"After 2nd rep","angle":"45º","T":117,"e":-35},{"rep":"After 2nd rep","angle":"45º","T":118,"e":-31},{"rep":"After 2nd rep","angle":"45º","T":119,"e":-25},{"rep":"After 2nd rep","angle":"45º","T":120,"e":-34},{"rep":"After 2nd rep","angle":"45º","T":121,"e":-50},{"rep":"After 2nd rep","angle":"45º","T":122,"e":-38},{"rep":"After 2nd rep","angle":"45º","T":123,"e":-44},{"rep":"After 2nd rep","angle":"45º","T":124,"e":-30},{"rep":"After 2nd rep","angle":"45º","T":125,"e":-36},{"rep":"After 2nd rep","angle":"45º","T":126,"e":-42},{"rep":"After 2nd rep","angle":"45º","T":127,"e":-46},{"rep":"After 2nd rep","angle":"45º","T":128,"e":-57},{"rep":"After 2nd rep","angle":"45º","T":129,"e":-50},{"rep":"After 2nd rep","angle":"45º","T":130,"e":-43},{"rep":"After 2nd rep","angle":"45º","T":131,"e":-48},{"rep":"After 2nd rep","angle":"45º","T":132,"e":-52},{"rep":"After 2nd rep","angle":"45º","T":133,"e":-61},{"rep":"After 2nd rep","angle":"45º","T":134,"e":-50},{"rep":"After 2nd rep","angle":"45º","T":135,"e":-43},{"rep":"After 2nd rep","angle":"45º","T":136,"e":-52},{"rep":"After 2nd rep","angle":"45º","T":137,"e":-47},{"rep":"After 2nd rep","angle":"45º","T":138,"e":-55},{"rep":"After 2nd rep","angle":"45º","T":139,"e":-60},{"rep":"After 2nd rep","angle":"45º","T":140,"e":-61},{"rep":"After 2nd rep","angle":"45º","T":141,"e":-52},{"rep":"After 2nd rep","angle":"45º","T":142,"e":-58},{"rep":"After 2nd rep","angle":"45º","T":143,"e":-63},{"rep":"After 2nd rep","angle":"45º","T":144,"e":-75},{"rep":"After 2nd rep","angle":"45º","T":145,"e":-62},{"rep":"After 2nd rep","angle":"45º","T":146,"e":-66},{"rep":"After 2nd rep","angle":"45º","T":147,"e":-61},{"rep":"After 2nd rep","angle":"45º","T":148,"e":-75},{"rep":"After 2nd rep","angle":"45º","T":149,"e":-64},{"rep":"After 2nd rep","angle":"45º","T":150,"e":-70},{"rep":"After 2nd rep","angle":"45º","T":151,"e":-57},{"rep":"After 2nd rep","angle":"45º","T":152,"e":-64},{"rep":"After 2nd rep","angle":"45º","T":153,"e":-70},{"rep":"After 2nd rep","angle":"45º","T":154,"e":-62},{"rep":"After 2nd rep","angle":"45º","T":155,"e":-68},{"rep":"After 2nd rep","angle":"45º","T":156,"e":-55},{"rep":"After 2nd rep","angle":"45º","T":157,"e":-66},{"rep":"After 2nd rep","angle":"45º","T":158,"e":-72},{"rep":"After 2nd rep","angle":"45º","T":159,"e":-80},{"rep":"After 2nd rep","angle":"45º","T":160,"e":-58},{"rep":"After 2nd rep","angle":"45º","T":161,"e":-68},{"rep":"After 2nd rep","angle":"45º","T":162,"e":-63},{"rep":"After 2nd rep","angle":"45º","T":163,"e":-78},{"rep":"After 2nd rep","angle":"45º","T":164,"e":-60},{"rep":"After 2nd rep","angle":"45º","T":165,"e":-68},{"rep":"After 2nd rep","angle":"45º","T":166,"e":-72},{"rep":"After 2nd rep","angle":"45º","T":167,"e":-67},{"rep":"After 2nd rep","angle":"45º","T":168,"e":-82}
]},
"mark":{"type":"line","clip":true,"strokeCap":"butt","strokeJoin":"miter"},
"encoding":{
"x":{"field":"T","type":"quantitative","scale":{"domain":[20,169.35],"nice":false,"zero":false},"axis":{"values":[20,40,60,80,100,120,140,160],"title":"T(K)","titlePadding":7}},
"y":{"field":"e","type":"quantitative","scale":{"domain":[-150,267],"nice":false,"zero":false},"axis":{"values":[-150,-100,-50,0,50,100,150,200,250],"title":"ε(μm/m)","titlePadding":8}},
"color":{"field":"rep","type":"nominal","scale":{"domain":["After 2nd rep","After 1st rep","Before 1st rep","45º","-45º"],"range":["#ff0000","#008000","#00bfbf","#000000","#000000"]},
"legend":{"title":null,"orient":"none","legendX":9,"legendY":6,"symbolType":"M-1,0H3","symbolSize":324,"symbolStrokeWidth":2.7,"symbolFillColor":"transparent","labelFontSize":18,"labelColor":"black","labelFont":"DejaVu Sans","padding":6,"strokeColor":"#cccccc","fillColor":"white","cornerRadius":4,"rowPadding":7,"labelOffset":31,
"encode":{"symbols":{"update":{"fill":{"value":"transparent"},"strokeDash":{"signal":"datum.value === '45º' ? [2.7,4.5] : datum.value === '-45º' ? [10,4.3] : [1,0]"}}}}}},
"strokeDash":{"field":"angle","type":"nominal","scale":{"domain":["45º","-45º"],"range":[[2.2,3.6],[8,3.5]]},"legend":null},
"strokeWidth":{"field":"rep","type":"nominal","scale":{"domain":["After 2nd rep","After 1st rep","Before 1st rep"],"range":[2.2,3.2,2.2]},"legend":null}
}
}
